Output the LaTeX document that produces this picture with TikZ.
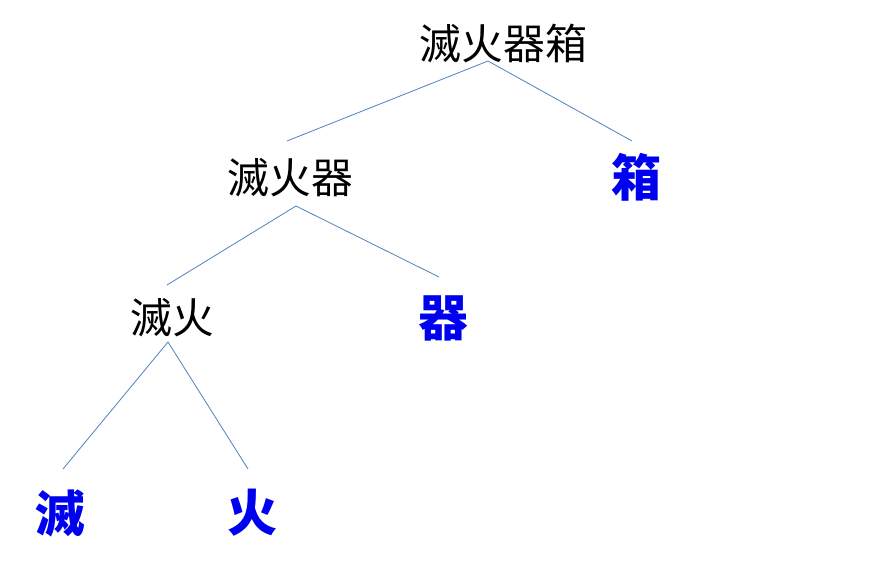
\documentclass[tikz,border=0pt]{standalone}
\usepackage{fontspec}
\newfontfamily\cjk{Noto Sans CJK TC}
\definecolor{linkcol}{RGB}{79,129,189}
\definecolor{leafcol}{RGB}{0,0,240}
\tikzset{
  inner/.style={inner sep=0pt, font=\cjk\fontsize{42}{42}\selectfont, text=black},
  leaf/.style={inner sep=0pt, font=\cjk\bfseries\fontsize{50}{50}\selectfont, text=leafcol},
  link/.style={draw=linkcol, line width=0.8pt}
}
\begin{document}
\begin{tikzpicture}[x=1pt,y=-1pt]
\useasboundingbox (0,0) rectangle (887,572);
\node[inner] (root) at (503,44) {滅火器箱};
\node[inner] (n1) at (290,178) {滅火器};
\node[leaf] (box) at (636,177) {箱};
\node[inner] (n2) at (172,318) {滅火};
\node[leaf] (qi) at (443,318) {器};
\node[leaf] (mie) at (60,513) {滅};
\node[leaf] (huo) at (252,513) {火};
\coordinate (rootb) at (488,61);
\coordinate (n1t) at (287,141);
\coordinate (boxt) at (632,141);
\coordinate (n1b) at (296,206);
\coordinate (n2t) at (167,285);
\coordinate (qit) at (439,277);
\coordinate (n2b) at (168,342);
\coordinate (miet) at (63,469);
\coordinate (huot) at (248,469);
\draw[link] (n1t) -- (rootb) -- (boxt);
\draw[link] (n2t) -- (n1b) -- (qit);
\draw[link] (miet) -- (n2b) -- (huot);
\end{tikzpicture}
\end{document}
